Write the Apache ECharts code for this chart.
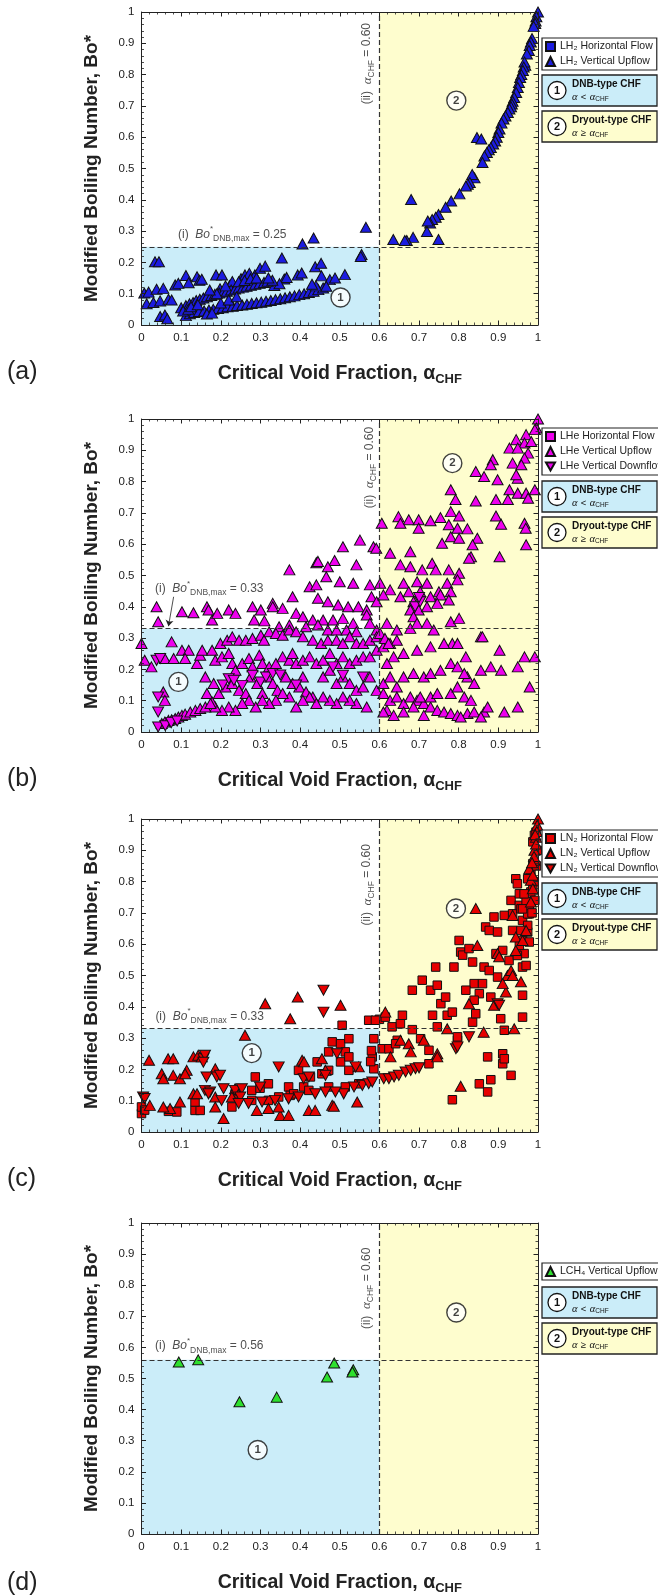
<!DOCTYPE html>
<html><head><meta charset="utf-8">
<script src="https://cdn.jsdelivr.net/npm/echarts@6/dist/echarts.min.js"></script>
<style>html,body{margin:0;padding:0;background:#fff}#c{width:658px;height:1596px}</style>
</head><body><div id="c"></div>
<script>
// ---------------- data ----------------
const panelLetters = ['(a)', '(b)', '(c)', '(d)'];
const boMax = [0.25, 0.33, 0.33, 0.56];
const alphaCHF = 0.60;

const namesA = ['LH₂ Horizontal Flow', 'LH₂ Vertical Upflow'];
const namesB = ['LHe Horizontal Flow', 'LHe Vertical Upflow', 'LHe Vertical Downflow'];
const namesC = ['LN₂ Horizontal Flow', 'LN₂ Vertical Upflow', 'LN₂ Vertical Downflow'];
const namesD = ['LCH₄ Vertical Upflow'];

// (a) LH2
const aHoriz = [];
const aUp = [
[1.0,1.0],[0.996,0.985],[0.994,0.971],[0.993,0.963],[0.989,0.954],[0.985,0.915],[0.982,0.904],[0.979,0.893],[0.977,0.877],[0.972,0.866],
[0.968,0.83],[0.966,0.840],[0.964,0.824],[0.962,0.813],[0.958,0.80],[0.955,0.791],[0.952,0.775],[0.949,0.759],[0.945,0.743],[0.940,0.727],
[0.936,0.715],[0.934,0.706],[0.932,0.697],[0.928,0.69],[0.924,0.679],[0.918,0.668],[0.913,0.658],[0.908,0.645],[0.903,0.626],[0.900,0.615],
[0.896,0.60],[0.892,0.588],[0.887,0.578],[0.881,0.567],[0.876,0.56],[0.871,0.551],[0.865,0.540],[0.860,0.519],[0.846,0.599],[0.857,0.594],
[0.84,0.47],[0.834,0.481],[0.828,0.455],[0.823,0.45],[0.818,0.444],[0.802,0.419],[0.781,0.396],[0.767,0.376],[0.749,0.353],[0.742,0.344],
[0.733,0.337],[0.728,0.326],[0.722,0.332],[0.720,0.299],[0.749,0.273],[0.680,0.401],[0.685,0.280],[0.669,0.270],[0.664,0.270],[0.635,0.273],
[0.566,0.312],[0.555,0.225],[0.553,0.219],
[0.034,0.202],[0.044,0.202],[0.007,0.102],[0.018,0.105],[0.038,0.114],[0.055,0.117],[0.013,0.068],[0.030,0.072],[0.047,0.077],[0.068,0.082],
[0.076,0.080],[0.047,0.027],[0.059,0.032],[0.065,0.020],[0.085,0.128],[0.093,0.133],[0.112,0.158],[0.119,0.135],[0.140,0.154],[0.146,0.143],
[0.152,0.146],[0.188,0.160],[0.203,0.160],[0.198,0.116],[0.222,0.126],[0.229,0.139],[0.251,0.148],[0.261,0.160],[0.272,0.165],[0.286,0.160],
[0.299,0.181],[0.312,0.188],[0.354,0.214],[0.406,0.259],[0.434,0.278],[0.394,0.160],[0.404,0.166],[0.438,0.186],[0.453,0.197],[0.454,0.157],
[0.475,0.145],[0.488,0.150],[0.513,0.161],[0.360,0.147],[0.366,0.152],[0.335,0.126],[0.348,0.132],
[0.100,0.055],[0.112,0.062],[0.121,0.068],[0.130,0.072],[0.138,0.078],[0.147,0.082],[0.156,0.086],[0.165,0.090],[0.176,0.094],[0.185,0.098],
[0.196,0.102],[0.206,0.105],[0.215,0.108],[0.226,0.112],[0.236,0.115],[0.245,0.118],[0.256,0.121],[0.265,0.124],[0.276,0.127],[0.287,0.130],
[0.298,0.133],[0.309,0.136],[0.318,0.140],[0.330,0.143],
[0.112,0.030],[0.122,0.036],[0.133,0.040],[0.145,0.043],[0.158,0.045],[0.170,0.048],[0.181,0.050],[0.193,0.053],[0.205,0.055],[0.217,0.058],
[0.230,0.060],[0.241,0.062],[0.254,0.064],[0.266,0.066],[0.278,0.069],[0.290,0.071],[0.302,0.073],[0.314,0.076],[0.326,0.078],[0.338,0.081],
[0.350,0.084],[0.362,0.087],[0.374,0.090],[0.386,0.093],[0.398,0.097],[0.410,0.100],[0.422,0.104],[0.434,0.108],[0.446,0.113],[0.458,0.118],
[0.466,0.124],[0.105,0.045],[0.118,0.050],[0.125,0.058],[0.142,0.065],[0.165,0.035],[0.178,0.038],[0.200,0.070],[0.220,0.080],[0.240,0.090],
[0.190,0.100],[0.172,0.112],[0.212,0.125],[0.245,0.138],[0.260,0.142],[0.275,0.148],[0.290,0.150],[0.320,0.150],[0.440,0.125],[0.430,0.130]
];

// (b) LHe
const bHoriz = [];
const bUp = [
[1.0,1.0],[0.996,0.971],[0.992,0.966],[0.970,0.950],[0.945,0.934],[0.966,0.923],[0.983,0.928],[0.928,0.907],[0.949,0.907],[0.975,0.891],
[0.966,0.875],[0.936,0.859],[0.958,0.854],[0.886,0.870],[0.881,0.854],[0.843,0.832],[0.864,0.816],[0.898,0.806],[0.949,0.811],[0.945,0.822],
[0.780,0.774],[0.928,0.774],[0.949,0.763],[0.970,0.763],[0.992,0.774],[0.924,0.743],[0.843,0.738],[0.792,0.743],[0.894,0.743],[0.975,0.747],
[0.780,0.704],[0.801,0.690],[0.894,0.690],[0.907,0.664],[0.966,0.667],[0.969,0.651],[0.970,0.598],[0.903,0.560],
[0.648,0.688],[0.674,0.678],[0.699,0.678],[0.699,0.651],[0.653,0.667],[0.729,0.675],[0.754,0.685],[0.775,0.662],[0.797,0.651],[0.822,0.649],
[0.780,0.624],[0.758,0.603],[0.801,0.619],[0.847,0.619],[0.835,0.598],[0.831,0.560],[0.826,0.555],[0.606,0.667],
[0.508,0.592],[0.551,0.613],[0.585,0.592],[0.592,0.587],[0.627,0.571],[0.678,0.576],[0.441,0.541],[0.445,0.545],[0.487,0.548],[0.542,0.534],
[0.470,0.528],[0.653,0.534],[0.678,0.528],[0.733,0.539],[0.742,0.518],[0.775,0.518],[0.801,0.507],[0.708,0.518],
[0.373,0.518],[0.466,0.496],[0.424,0.464],[0.441,0.470],[0.500,0.480],[0.534,0.475],[0.576,0.470],[0.602,0.475],[0.627,0.454],[0.661,0.475],
[0.695,0.480],[0.720,0.475],[0.771,0.475],[0.797,0.486],[0.750,0.448],[0.331,0.411],[0.381,0.432],[0.445,0.427],[0.470,0.416],[0.496,0.406],
[0.521,0.400],[0.547,0.400],[0.568,0.390],[0.580,0.432],[0.593,0.416],[0.610,0.438],[0.653,0.432],[0.674,0.448],[0.703,0.448],[0.729,0.432],
[0.754,0.438],[0.780,0.448],[0.686,0.416],[0.678,0.390],[0.699,0.390],[0.686,0.368],[0.720,0.400],[0.746,0.411],[0.775,0.422],
[0.038,0.400],[0.042,0.352],[0.102,0.384],[0.131,0.381],[0.165,0.400],[0.169,0.390],[0.178,0.358],[0.191,0.379],[0.220,0.390],[0.237,0.379],
[0.280,0.400],[0.301,0.390],[0.284,0.358],[0.310,0.355],[0.331,0.400],[0.356,0.395],[0.390,0.379],[0.407,0.368],[0.432,0.358],[0.458,0.358],
[0.483,0.358],[0.508,0.363],[0.534,0.347],[0.568,0.374],[0.347,0.336],[0.373,0.342],[0.415,0.336],[0.445,0.342],[0.470,0.326],[0.492,0.326],
[0.517,0.326],[0.542,0.320],[0.593,0.326],[0.619,0.347],[0.644,0.326],[0.678,0.331],[0.695,0.347],[0.720,0.347],[0.737,0.326],[0.780,0.352],
[0.801,0.363],[0.856,0.304],[0.784,0.283],
[0.0,0.283],[0.008,0.229],[0.025,0.208],[0.059,0.235],[0.076,0.288],[0.081,0.235],[0.102,0.261],[0.119,0.261],[0.110,0.235],[0.140,0.219],
[0.148,0.245],[0.153,0.261],[0.178,0.261],[0.199,0.283],[0.216,0.293],[0.229,0.304],[0.246,0.293],[0.263,0.293],[0.280,0.299],[0.301,0.309],
[0.309,0.293],[0.322,0.320],[0.339,0.315],[0.356,0.309],[0.373,0.326],[0.390,0.320],[0.407,0.304],[0.432,0.293],[0.453,0.283],[0.470,0.293],
[0.492,0.293],[0.508,0.283],[0.525,0.304],[0.542,0.283],[0.559,0.283],[0.576,0.293],[0.593,0.304],
[0.186,0.229],[0.203,0.240],[0.220,0.251],[0.229,0.219],[0.237,0.197],[0.254,0.219],[0.271,0.235],[0.280,0.208],[0.297,0.245],[0.305,0.219],
[0.322,0.208],[0.339,0.219],[0.356,0.240],[0.373,0.229],[0.381,0.251],[0.390,0.219],[0.407,0.229],[0.424,0.240],[0.441,0.219],[0.458,0.229],
[0.475,0.251],[0.492,0.219],[0.508,0.240],[0.525,0.219],[0.542,0.229],[0.559,0.240],[0.576,0.240],[0.593,0.261],[0.610,0.272],[0.627,0.283],
[0.644,0.293],
[0.161,0.176],[0.182,0.155],[0.165,0.123],[0.195,0.123],[0.212,0.144],[0.229,0.155],[0.246,0.133],[0.263,0.123],[0.275,0.176],[0.292,0.155],
[0.305,0.123],[0.318,0.176],[0.331,0.155],[0.343,0.133],[0.364,0.176],[0.381,0.155],[0.398,0.144],[0.415,0.128],[0.432,0.112],[0.407,0.176],
[0.458,0.176],[0.475,0.197],[0.492,0.155],[0.508,0.176],[0.525,0.155],[0.542,0.133],[0.559,0.144],[0.576,0.176],[0.593,0.133],[0.568,0.080],
[0.542,0.091],[0.525,0.101],[0.508,0.112],[0.492,0.091],[0.475,0.101],[0.458,0.112],[0.441,0.091],[0.424,0.112],[0.407,0.101],[0.390,0.080],
[0.373,0.112],[0.356,0.123],[0.339,0.101],[0.322,0.091],[0.305,0.101],[0.288,0.080],[0.271,0.101],[0.254,0.091],[0.237,0.069],[0.220,0.080],
[0.203,0.069],[0.186,0.080],[0.178,0.096],
[0.051,0.027],[0.059,0.032],[0.068,0.037],[0.076,0.039],[0.085,0.043],[0.093,0.048],[0.102,0.053],[0.110,0.057],[0.123,0.064],[0.136,0.069],
[0.148,0.075],[0.161,0.080],[0.174,0.091],[0.055,0.128],[0.059,0.101],
[0.610,0.155],[0.627,0.176],[0.644,0.144],[0.661,0.176],[0.686,0.187],[0.712,0.176],[0.729,0.187],[0.754,0.197],[0.780,0.219],[0.797,0.208],
[0.822,0.176],[0.856,0.197],[0.881,0.208],[0.907,0.197],[0.949,0.208],[0.966,0.240],[0.992,0.240],[0.979,0.144],[0.903,0.261],[0.860,0.304],
[0.818,0.240],[0.797,0.283],[0.763,0.283],[0.729,0.272],[0.695,0.261],[0.661,0.251],[0.636,0.240],[0.619,0.219],
[0.610,0.123],[0.627,0.101],[0.644,0.112],[0.661,0.091],[0.678,0.112],[0.695,0.101],[0.712,0.091],[0.729,0.080],[0.746,0.069],[0.763,0.064],
[0.780,0.059],[0.797,0.053],[0.822,0.059],[0.839,0.064],[0.864,0.064],[0.873,0.080],[0.915,0.064],[0.949,0.080],[0.856,0.048],[0.805,0.048],
[0.712,0.053],[0.619,0.069],[0.610,0.064],[0.636,0.053],[0.661,0.064],[0.686,0.080],[0.703,0.112],[0.729,0.112],[0.746,0.123],[0.780,0.123],
[0.814,0.112],[0.831,0.101],[0.797,0.144],[0.839,0.155],[0.814,0.187],
[0.576,0.347],[0.602,0.315],[0.614,0.299],[0.623,0.283]
];
const bDown = [
[0.038,0.229],[0.047,0.235],[0.042,0.112],[0.042,0.064],[0.042,0.016],[0.060,0.020],[0.075,0.030],[0.090,0.035],[0.205,0.150],[0.220,0.170],
[0.233,0.165],[0.254,0.149],[0.280,0.181],[0.300,0.160],[0.314,0.176],[0.331,0.187],[0.350,0.182],[0.390,0.150],[0.483,0.208],[0.508,0.181],
[0.559,0.176],[0.690,0.400],[0.703,0.416],[0.700,0.430]
];

// (c) LN2
const cHoriz = [
[0.0,0.059],[0.0,0.080],[0.008,0.070],[0.068,0.066],[0.089,0.064],[0.135,0.069],[0.148,0.069],[0.135,0.096],[0.228,0.080],[0.287,0.176],
[0.278,0.133],[0.299,0.140],[0.236,0.122],[0.320,0.154],[0.371,0.144],[0.375,0.117],[0.396,0.197],[0.426,0.176],[0.443,0.224],[0.472,0.256],
[0.481,0.288],[0.502,0.282],[0.506,0.341],[0.523,0.298],[0.514,0.256],[0.502,0.224],[0.523,0.240],[0.523,0.197],[0.455,0.186],[0.472,0.197],
[0.409,0.144],[0.320,0.101],[0.278,0.101],[0.346,0.112],[0.384,0.122],[0.422,0.133],[0.472,0.144],[0.514,0.144],[0.548,0.154],[0.573,0.357],
[0.586,0.298],[0.586,0.202],[0.582,0.240],[0.578,0.225],[0.600,0.360],[0.580,0.260],
[0.590,0.357],[0.615,0.367],[0.632,0.336],[0.645,0.293],[0.607,0.266],[0.624,0.266],[0.641,0.282],[0.653,0.346],[0.658,0.373],[0.683,0.327],
[0.683,0.453],[0.708,0.485],[0.704,0.298],[0.725,0.261],[0.725,0.218],[0.729,0.453],[0.734,0.373],[0.746,0.336],[0.746,0.469],[0.742,0.527],
[0.755,0.410],[0.767,0.431],[0.771,0.373],[0.784,0.383],[0.788,0.527],[0.797,0.293],[0.797,0.304],[0.801,0.612],[0.805,0.575],[0.810,0.565],
[0.826,0.586],[0.835,0.543],[0.839,0.474],[0.835,0.351],[0.843,0.378],[0.852,0.442],[0.860,0.474],[0.864,0.527],[0.868,0.655],[0.877,0.644],
[0.889,0.687],[0.894,0.570],[0.898,0.495],[0.898,0.639],[0.906,0.362],[0.911,0.580],[0.911,0.250],[0.915,0.325],[0.915,0.692],[0.932,0.740],
[0.936,0.644],[0.927,0.548],[0.936,0.697],[0.944,0.809],[0.948,0.793],[0.953,0.761],[0.953,0.724],[0.957,0.713],[0.961,0.676],[0.961,0.612],
[0.961,0.527],[0.961,0.437],[0.961,0.367],[0.965,0.570],[0.970,0.532],[0.974,0.639],[0.974,0.660],[0.978,0.697],[0.978,0.719],[0.982,0.735],
[0.982,0.767],[0.987,0.783],[0.987,0.857],[0.987,0.927],[0.991,0.948],[0.995,0.958],[0.982,0.830],[0.974,0.809],[0.978,0.607],[0.974,0.697],
[0.970,0.735],[0.965,0.761],[0.961,0.713],[0.957,0.644],[0.953,0.596],[0.948,0.564],[0.873,0.240],[0.873,0.128],[0.852,0.154],[0.881,0.167],
[0.911,0.218],[0.932,0.181],[0.784,0.103],[0.915,0.234],[0.877,0.516],[0.881,0.431],[0.839,0.421],[0.818,0.453],[0.996,0.850],[0.998,0.900],
[0.990,0.800],[0.985,0.700],[0.992,0.740]
];
const cUp = [
[0.019,0.229],[0.021,0.085],[0.051,0.186],[0.055,0.170],[0.067,0.234],[0.080,0.234],[0.080,0.181],[0.097,0.170],[0.072,0.075],[0.055,0.080],
[0.097,0.096],[0.114,0.197],[0.110,0.186],[0.131,0.240],[0.143,0.245],[0.152,0.240],[0.131,0.122],[0.140,0.122],[0.186,0.202],[0.186,0.112],
[0.207,0.043],[0.186,0.080],[0.261,0.309],[0.312,0.410],[0.375,0.362],[0.394,0.431],[0.502,0.405],[0.455,0.234],[0.464,0.197],[0.405,0.229],
[0.291,0.069],[0.320,0.075],[0.350,0.053],[0.371,0.053],[0.422,0.069],[0.438,0.069],[0.481,0.085],[0.485,0.082],[0.544,0.096],[0.548,0.208],
[0.346,0.080],[0.236,0.138],[0.228,0.112],[0.410,0.224],
[0.615,0.383],[0.628,0.240],[0.653,0.293],[0.674,0.282],[0.679,0.256],[0.712,0.293],[0.746,0.250],[0.746,0.240],[0.771,0.330],[0.826,0.410],
[0.843,0.714],[0.847,0.596],[0.863,0.319],[0.805,0.146],[0.889,0.405],[0.919,0.447],[0.923,0.500],[0.932,0.516],[0.936,0.500],[0.944,0.580],
[0.940,0.330],[0.944,0.623],[0.911,0.474],[0.936,0.692],[0.978,0.841],[0.982,0.804],[0.987,0.820],[0.991,0.900],[0.995,0.942],[0.995,0.920],
[0.991,0.868],[0.987,0.777],[0.982,0.735],[0.970,0.644],[0.961,0.612],[0.898,0.570],[0.902,0.560],[0.957,0.480],[1.0,1.0],[0.998,0.980],
[0.997,0.960],[0.993,0.950],[0.990,0.880],[0.985,0.860]
];
const cDown = [
[0.004,0.112],[0.008,0.107],[0.156,0.234],[0.160,0.245],[0.156,0.223],[0.164,0.176],[0.190,0.176],[0.198,0.181],[0.160,0.133],[0.173,0.128],
[0.207,0.138],[0.236,0.133],[0.253,0.138],[0.249,0.112],[0.299,0.144],[0.346,0.208],[0.409,0.170],[0.422,0.176],[0.459,0.453],[0.459,0.383],
[0.493,0.250],[0.464,0.181],[0.510,0.122],[0.540,0.208],[0.557,0.149],[0.573,0.154],[0.582,0.160],[0.536,0.144],[0.489,0.128],[0.464,0.128],
[0.438,0.122],[0.396,0.112],[0.371,0.106],[0.337,0.101],[0.304,0.096],[0.270,0.091],[0.245,0.091],[0.202,0.101],[0.169,0.122],
[0.611,0.170],[0.624,0.170],[0.637,0.176],[0.649,0.181],[0.666,0.192],[0.679,0.197],[0.691,0.202],[0.700,0.205],[0.793,0.266],[0.797,0.272],
[0.826,0.304],[0.898,0.410],[0.902,0.405]
];

// (d) LCH4
const dUp = [[0.094,0.553],[0.143,0.560],[0.247,0.425],[0.341,0.440],[0.468,0.505],[0.486,0.550],[0.534,0.528],[0.532,0.521]];

// ---------------- styling / layout ----------------
const FONT = "'Liberation Sans', Arial, Helvetica, sans-serif";
const SERIF = "'Liberation Serif', 'DejaVu Serif', serif";
const INK = '#222';
const BLUE_BG = '#cbedf9';
const YEL_BG = '#fefdce';
const GL = 141.5, GW = 396.5, GH = 313;
const tops = [12, 419, 819, 1223];
const SYM_UP = 'triangle';
const SYM_DOWN = 'path://M0,0L10,0L5,8.7Z';

const panels = [
  { color:'#1c1ce0', series:[[namesA[0], aHoriz,'sq'],[namesA[1], aUp,'up']],
    legendTop:38, boxTop:75, c1:[0.502,0.088], c2:[0.794,0.717], annI:[0.092,0.29], annII:[0.569,0.835], arrow:null },
  { color:'#ee00ee', series:[[namesB[0], bHoriz,'sq'],[namesB[1], bUp,'up'],[namesB[2], bDown,'down']],
    legendTop:428, boxTop:481, c1:[0.093,0.160], c2:[0.784,0.859], annI:[0.034,0.459], annII:[0.575,0.845], arrow:[[0.081,0.432],[0.068,0.338]] },
  { color:'#e60000', series:[[namesC[0], cHoriz,'sq'],[namesC[1], cUp,'up'],[namesC[2], cDown,'down']],
    legendTop:830, boxTop:883, c1:[0.278,0.252], c2:[0.793,0.714], annI:[0.035,0.370], annII:[0.569,0.790], arrow:null },
  { color:'#2ee02e', series:[[namesD[0], dUp,'up']],
    legendTop:1263, boxTop:1287, c1:[0.293,0.270], c2:[0.794,0.712], annI:[0.034,0.604], annII:[0.567,0.790], arrow:null }
];

const grid = tops.map(t => ({ left: GL, top: t, width: GW, height: GH }));

function axisCommon(i, pos, showLabel) {
  return {
    gridIndex: i, type: 'value', min: 0, max: 1, interval: 0.1, position: pos, z: 6,
    axisLine: { show: true, onZero: false, lineStyle: { color: INK, width: 1 } },
    axisTick: { show: true, inside: true, length: 4.5, lineStyle: { color: INK, width: 1 } },
    minorTick: { show: true, splitNumber: 5, length: 2.5, lineStyle: { color: INK, width: 0.8 } },
    splitLine: { show: false }, minorSplitLine: { show: false },
    axisLabel: { show: showLabel, fontSize: 11.5, color: INK, fontFamily: FONT, margin: 7 }
  };
}
const xAxis = [], yAxis = [];
tops.forEach((t, i) => {
  const xb = axisCommon(i, 'bottom', true);
  xb.name = '{t|Critical Void Fraction, α}{s|CHF}';
  xb.nameLocation = 'middle'; xb.nameGap = 36;
  xb.nameTextStyle = { rich: {
    t: { fontSize: 19.5, fontWeight: 'bold', fontFamily: FONT, color: INK, lineHeight: 25 },
    s: { fontSize: 13, fontWeight: 'bold', fontFamily: FONT, color: INK, lineHeight: 10, verticalAlign: 'bottom' } } };
  xAxis.push(xb);
  xAxis.push(axisCommon(i, 'top', false));
  const yl = axisCommon(i, 'left', true);
  yl.name = 'Modified Boiling Number, Bo*';
  yl.nameLocation = 'middle'; yl.nameGap = 40;
  yl.nameTextStyle = { fontSize: 19, fontWeight: 'bold', fontFamily: FONT, color: INK };
  yAxis.push(yl);
  yAxis.push(axisCommon(i, 'right', false));
});

const annRich = {
  n: { fontSize: 12, fontFamily: FONT, color: INK, lineHeight: 18 },
  it: { fontSize: 12, fontFamily: FONT, fontStyle: 'italic', color: INK, lineHeight: 18 },
  sup: { fontSize: 8, fontFamily: FONT, color: INK, lineHeight: 9, verticalAlign: 'top' },
  sub: { fontSize: 8.5, fontFamily: FONT, color: INK, lineHeight: 9, verticalAlign: 'bottom' },
  ita: { fontSize: 13, fontFamily: SERIF, fontStyle: 'italic', color: INK, lineHeight: 18 }
};

const series = [];
panels.forEach((p, i) => {
  const xi = 2 * i, yi = 2 * i;
  const bo = boMax[i];
  series.push({
    type: 'scatter', xAxisIndex: xi, yAxisIndex: yi, z: 1, silent: true, symbolSize: 0, data: [[0.5, 0.5]],
    markArea: { silent: true, data: [
      [{ xAxis: 0, yAxis: 0, itemStyle: { color: BLUE_BG } }, { xAxis: alphaCHF, yAxis: bo }],
      [{ xAxis: alphaCHF, yAxis: 0, itemStyle: { color: YEL_BG } }, { xAxis: 1, yAxis: 1 }]
    ] },
    markLine: { silent: true, symbol: 'none', animation: false, label: { show: false },
      lineStyle: { type: [5, 3], color: '#333', width: 1.2 },
      data: [{ yAxis: bo }, { xAxis: alphaCHF }] }
  });
  if (p.arrow) {
    series.push({ type: 'scatter', xAxisIndex: xi, yAxisIndex: yi, z: 4, silent: true, symbolSize: 0, data: [],
      markLine: { silent: true, animation: false, symbol: ['none', 'arrow'], symbolSize: 6, label: { show: false },
        lineStyle: { type: 'solid', color: '#222', width: 0.8 },
        data: [[{ coord: p.arrow[0] }, { coord: p.arrow[1] }]] } });
  }
  p.series.forEach(([name, data, kind]) => {
    series.push({
      type: 'scatter', name, data, xAxisIndex: xi, yAxisIndex: yi, z: 3,
      symbol: kind === 'sq' ? 'rect' : (kind === 'up' ? SYM_UP : SYM_DOWN),
      symbolSize: kind === 'sq' ? 8.5 : [11, 10],
      itemStyle: { color: p.color, borderColor: '#111', borderWidth: 1, opacity: 1 }
    });
  });
  series.push({
    type: 'scatter', xAxisIndex: xi, yAxisIndex: yi, z: 5, silent: true, symbol: 'circle', symbolSize: 19,
    data: [{ value: p.c1, label: { formatter: '1' } }, { value: p.c2, label: { formatter: '2' } }],
    itemStyle: { color: '#fff', borderColor: '#111', borderWidth: 1.4 },
    label: { show: true, position: 'inside', fontSize: 11.5, fontWeight: 'bold', fontFamily: FONT, color: '#111' }
  });
  series.push({
    type: 'scatter', xAxisIndex: xi, yAxisIndex: yi, z: 5, silent: true, symbolSize: 0,
    data: [
      { value: p.annI, label: { formatter: '{n|(i)  }{it|Bo}{sup|*}{sub|DNB,max}{n| = ' + bo.toFixed(2) + '}',
          position: [0, 0], align: 'left', verticalAlign: 'middle' } },
      { value: p.annII, label: { formatter: '{n|(ii)  }{ita|α}{sub|CHF}{n| = ' + alphaCHF.toFixed(2) + '}',
          position: [0, 0], align: 'center', verticalAlign: 'middle', rotate: 90 } }
    ],
    label: { show: true, rich: annRich }
  });
});

const legend = panels.map(p => ({
  data: p.series.map(s => s[0]), orient: 'vertical', left: 542, top: p.legendTop,
  itemWidth: 9, itemHeight: 9, itemGap: 4, padding: [3, 4, 3, 3],
  borderColor: '#222', borderWidth: 1.2, backgroundColor: '#fff', selectedMode: false,
  textStyle: { fontSize: 10.5, color: INK, fontFamily: FONT }
}));

const graphic = [];
panels.forEach((p, i) => {
  const yTitle = tops[i] + GH + 47;
  graphic.push({ type: 'text', x: 7, y: yTitle, style: { text: panelLetters[i], font: '25px ' + FONT, fill: INK, verticalAlign: 'middle', textVerticalAlign: 'middle' } });
  [[BLUE_BG, '1', 'DNB-type CHF', '<'], [YEL_BG, '2', 'Dryout-type CHF', '≥']].forEach((b, k) => {
    const top = p.boxTop + k * 36;
    graphic.push({ type: 'rect', shape: { x: 542, y: top, width: 115, height: 31 }, style: { fill: b[0], stroke: '#222', lineWidth: 1.3 } });
    graphic.push({ type: 'circle', shape: { cx: 557, cy: top + 15.5, r: 9 }, style: { fill: '#fff', stroke: '#111', lineWidth: 1.3 } });
    graphic.push({ type: 'text', x: 557, y: top + 16, style: { text: b[1], font: 'bold 11px ' + FONT, fill: '#111', align: 'center', verticalAlign: 'middle', textAlign: 'center', textVerticalAlign: 'middle' } });
    graphic.push({ type: 'text', x: 572, y: top + 9, style: { text: b[2], font: 'bold 10px ' + FONT, fill: '#111', verticalAlign: 'middle', textVerticalAlign: 'middle' } });
    graphic.push({ type: 'text', x: 572, y: top + 22, style: {
      text: '{a|α} {o|' + b[3] + '} {a|α}{s|CHF}', verticalAlign: 'middle', textVerticalAlign: 'middle',
      rich: { a: { fontFamily: SERIF, fontStyle: 'italic', fontSize: 10.5, fill: '#111', lineHeight: 12 },
              o: { fontFamily: FONT, fontSize: 9.5, fill: '#111', lineHeight: 12 },
              s: { fontFamily: FONT, fontSize: 6.5, fill: '#111', lineHeight: 6, verticalAlign: 'bottom' } } } });
  });
});

const chart = echarts.init(document.getElementById('c'), null, { renderer: 'canvas' });
chart.setOption({ animation: false, backgroundColor: '#fff', grid, xAxis, yAxis, series, legend, graphic });
</script>
</body></html>
